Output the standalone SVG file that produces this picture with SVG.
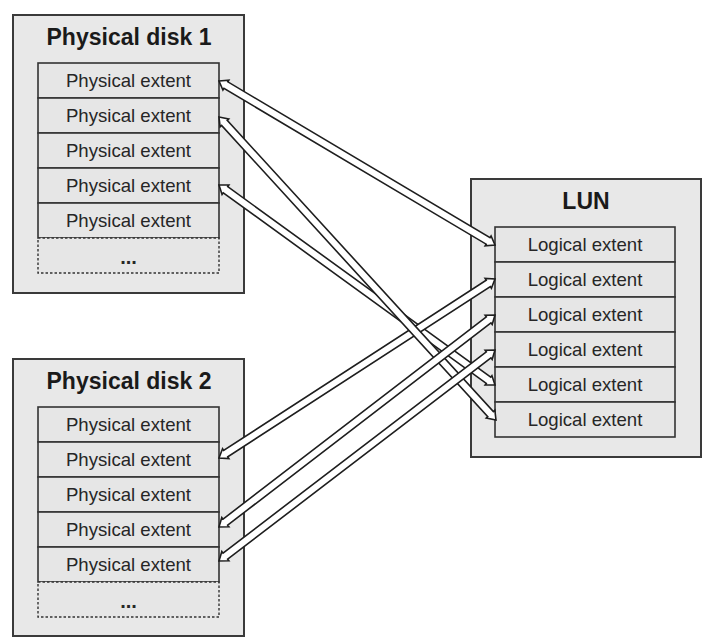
<svg xmlns="http://www.w3.org/2000/svg" width="727" height="642" viewBox="0 0 727 642">
<style>
.box{fill:#e8e8e8;stroke:#3a3a3a;stroke-width:2}
.row{fill:#e6e6e6;stroke:#333;stroke-width:1.6}
.dash{fill:#e6e6e6;stroke:#333;stroke-width:1.4;stroke-dasharray:2.5 2}
.title{font-family:"Liberation Sans",Arial,sans-serif;font-weight:bold;font-size:23px;fill:#1a1a1a;text-anchor:middle}
.lbl{font-family:"Liberation Sans",Arial,sans-serif;font-size:18.6px;fill:#262626;text-anchor:middle}
.dots{font-family:"Liberation Sans",Arial,sans-serif;font-weight:bold;font-size:20px;fill:#262626;text-anchor:middle}
.arr{fill:#fff;stroke:#1e1e1e;stroke-width:1.6;stroke-linejoin:miter}
</style>
<rect width="727" height="642" fill="#fff"/>
<g id="disk1">
<rect class="box" x="13" y="15" width="231" height="278"/>
<text class="title" x="129" y="45">Physical disk 1</text>
<g id="d1-pe1"><rect class="row" x="38" y="63" width="181" height="35"/><text class="lbl" x="128.5" y="87">Physical extent</text></g>
<g id="d1-pe2"><rect class="row" x="38" y="98" width="181" height="35"/><text class="lbl" x="128.5" y="122">Physical extent</text></g>
<g id="d1-pe3"><rect class="row" x="38" y="133" width="181" height="35"/><text class="lbl" x="128.5" y="157">Physical extent</text></g>
<g id="d1-pe4"><rect class="row" x="38" y="168" width="181" height="35"/><text class="lbl" x="128.5" y="192">Physical extent</text></g>
<g id="d1-pe5"><rect class="row" x="38" y="203" width="181" height="35"/><text class="lbl" x="128.5" y="227">Physical extent</text></g>
<g id="d1-more"><rect class="dash" x="38" y="238" width="181" height="35"/><text class="dots" x="128.5" y="264">...</text></g>
</g>
<g id="disk2">
<rect class="box" x="13" y="359" width="231" height="277"/>
<text class="title" x="129" y="389">Physical disk 2</text>
<g id="d2-pe1"><rect class="row" x="38" y="407" width="181" height="35"/><text class="lbl" x="128.5" y="431">Physical extent</text></g>
<g id="d2-pe2"><rect class="row" x="38" y="442" width="181" height="35"/><text class="lbl" x="128.5" y="466">Physical extent</text></g>
<g id="d2-pe3"><rect class="row" x="38" y="477" width="181" height="35"/><text class="lbl" x="128.5" y="501">Physical extent</text></g>
<g id="d2-pe4"><rect class="row" x="38" y="512" width="181" height="35"/><text class="lbl" x="128.5" y="536">Physical extent</text></g>
<g id="d2-pe5"><rect class="row" x="38" y="547" width="181" height="35"/><text class="lbl" x="128.5" y="571">Physical extent</text></g>
<g id="d2-more"><rect class="dash" x="38" y="582" width="181" height="35"/><text class="dots" x="128.5" y="608">...</text></g>
</g>
<g id="lun">
<rect class="box" x="471" y="179" width="230" height="278"/>
<text class="title" x="586" y="209">LUN</text>
<g id="le1"><rect class="row" x="495" y="227" width="180" height="35"/><text class="lbl" x="585" y="251">Logical extent</text></g>
<g id="le2"><rect class="row" x="495" y="262" width="180" height="35"/><text class="lbl" x="585" y="286">Logical extent</text></g>
<g id="le3"><rect class="row" x="495" y="297" width="180" height="35"/><text class="lbl" x="585" y="321">Logical extent</text></g>
<g id="le4"><rect class="row" x="495" y="332" width="180" height="35"/><text class="lbl" x="585" y="356">Logical extent</text></g>
<g id="le5"><rect class="row" x="495" y="367" width="180" height="35"/><text class="lbl" x="585" y="391">Logical extent</text></g>
<g id="le6"><rect class="row" x="495" y="402" width="180" height="35"/><text class="lbl" x="585" y="426">Logical extent</text></g>
</g>
<g id="connectors">
<polygon class="arr" transform="translate(219,81) rotate(30.72)" points="0,0 8,-5.8 8,-3.8 313.05,-3.8 313.05,-5.8 321.05,0 313.05,5.8 313.05,3.8 8,3.8 8,5.8"/>
<polygon class="arr" transform="translate(219,185) rotate(35.93)" points="0,0 8,-5.8 8,-3.8 332.85,-3.8 332.85,-5.8 340.85,0 332.85,5.8 332.85,3.8 8,3.8 8,5.8"/>
<polygon class="arr" transform="translate(219,458) rotate(-32.97)" points="0,0 8,-5.8 8,-3.8 320.96,-3.8 320.96,-5.8 328.96,0 320.96,5.8 320.96,3.8 8,3.8 8,5.8"/>
<polygon class="arr" transform="translate(219,117) rotate(47.57)" points="0,0 8,-5.8 8,-3.8 402.53,-3.8 402.53,-5.8 410.53,0 402.53,5.8 402.53,3.8 8,3.8 8,5.8"/>
<polygon class="arr" transform="translate(219,527) rotate(-37.53)" points="0,0 8,-5.8 8,-3.8 340.02,-3.8 340.02,-5.8 348.02,0 340.02,5.8 340.02,3.8 8,3.8 8,5.8"/>
<polygon class="arr" transform="translate(219,561) rotate(-37.40)" points="0,0 8,-5.8 8,-3.8 339.41,-3.8 339.41,-5.8 347.41,0 339.41,5.8 339.41,3.8 8,3.8 8,5.8"/>
</g>
</svg>
